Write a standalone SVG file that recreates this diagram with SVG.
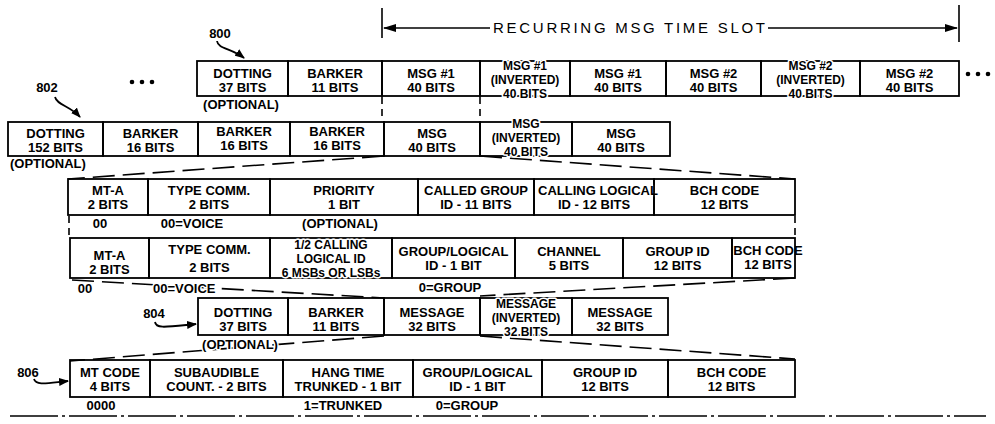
<svg xmlns="http://www.w3.org/2000/svg" width="995" height="424" viewBox="0 0 995 424">
<style>
.bg{fill:#fff}
rect.c{fill:none;stroke:#000;stroke-width:1.8}
text{font-family:"Liberation Sans",Arial,sans-serif;font-size:13px;font-weight:bold;fill:#000;text-anchor:middle}
text.l{text-anchor:start}
text.s{font-size:12px}
.h{paint-order:stroke;stroke:#fff;stroke-width:3px;stroke-linejoin:round}
.dash{fill:none;stroke:#000;stroke-width:1.6;stroke-dasharray:22 8}
.vd{fill:none;stroke:#000;stroke-width:1.6;stroke-dasharray:7 5}
.solid{fill:none;stroke:#000;stroke-width:1.6}
.lbl{fill:none;stroke:#000;stroke-width:1.8}
.dd{fill:none;stroke:#000;stroke-width:1.6;stroke-dasharray:48 4 3 4}
text.rec{font-weight:normal;font-size:15px}
</style>
<defs>
<marker id="ah" markerWidth="10" markerHeight="8" refX="9" refY="4" orient="auto" markerUnits="userSpaceOnUse">
<path d="M0,0 L10,4 L0,8 Z" fill="#000"/>
</marker>
<marker id="big" markerWidth="13" markerHeight="8" refX="12" refY="4" orient="auto" markerUnits="userSpaceOnUse">
<path d="M0,0 L13,4 L0,8 Z" fill="#000"/>
</marker>
</defs>
<rect class="bg" x="0" y="0" width="995" height="424"/>

<g id="connectors">
<line class="solid" x1="382" y1="8" x2="382" y2="38"/>
<line class="solid" x1="959" y1="5" x2="959" y2="42"/>
<line class="solid" x1="490" y1="28" x2="384" y2="28" marker-end="url(#big)"/>
<line class="solid" x1="768" y1="28" x2="957" y2="28" marker-end="url(#big)"/>
<line class="vd" x1="382" y1="97" x2="382" y2="121"/>
<line class="vd" x1="480" y1="97" x2="480" y2="121"/>
<line class="dash" x1="384" y1="156" x2="68" y2="179"/>
<line class="dash" x1="480" y1="156" x2="795" y2="179"/>
<line class="vd" x1="69" y1="216" x2="69" y2="238"/>
<line class="vd" x1="795" y1="216" x2="795" y2="238"/>
<line class="dash" x1="72" y1="280" x2="384" y2="298"/>
<line class="dash" x1="795" y1="278" x2="480" y2="296"/>
<line class="dash" x1="384" y1="336" x2="70" y2="361"/>
<line class="dash" x1="480" y1="336" x2="795" y2="359"/>
<line class="dd" x1="10" y1="416" x2="986" y2="416"/>
<path class="lbl" d="M217,41 C218,49 231,48 244,58" marker-end="url(#ah)"/>
<path class="lbl" d="M55,97 C57,105 70,106 80,117" marker-end="url(#ah)"/>
<path class="lbl" d="M155,322 C156,329 166,327 196,324" marker-end="url(#ah)"/>
<path class="lbl" d="M34,379 C36,386 48,383 68,381" marker-end="url(#ah)"/>
</g>

<g id="recurring-label"><text class="rec" x="629" y="33" textLength="272" lengthAdjust="spacing">RECURRING MSG TIME SLOT</text></g>

<g id="ref-800"><text x="220" y="38">800</text></g>
<g id="ref-802"><text x="47" y="92">802</text></g>
<g id="ref-804"><text x="154" y="318">804</text></g>
<g id="ref-806"><text x="28" y="377">806</text></g>

<g id="dots-left"><circle cx="132" cy="82" r="2.3"/><circle cx="142" cy="82" r="2.3"/><circle cx="152" cy="82" r="2.3"/></g>
<g id="dots-right"><circle cx="968" cy="74" r="2.3"/><circle cx="978" cy="74" r="2.3"/><circle cx="988" cy="74" r="2.3"/></g>

<g id="r800-dotting"><rect class="c" x="197" y="61" width="91" height="35"/><text x="242.5" y="78">DOTTING</text><text x="242.5" y="92">37 BITS</text><text class="h" x="241" y="109">(OPTIONAL)</text></g>
<g id="r800-barker"><rect class="c" x="288" y="61" width="94" height="35"/><text x="335" y="78">BARKER</text><text x="335" y="92">11 BITS</text></g>
<g id="r800-msg1a"><rect class="c" x="382" y="61" width="98" height="35"/><text x="431" y="78">MSG #1</text><text x="431" y="92">40 BITS</text></g>
<g id="r800-msg1inv"><rect class="c" x="480" y="61" width="90" height="35"/><text class="s h" x="525" y="70">MSG #1</text><text class="s" x="525" y="84">(INVERTED)</text><text class="s h" x="525" y="98">40 BITS</text></g>
<g id="r800-msg1b"><rect class="c" x="570" y="61" width="96" height="35"/><text x="618" y="78">MSG #1</text><text x="618" y="92">40 BITS</text></g>
<g id="r800-msg2a"><rect class="c" x="666" y="61" width="95" height="35"/><text x="713.5" y="78">MSG #2</text><text x="713.5" y="92">40 BITS</text></g>
<g id="r800-msg2inv"><rect class="c" x="761" y="61" width="99" height="35"/><text class="s h" x="810.5" y="70">MSG #2</text><text class="s" x="810.5" y="84">(INVERTED)</text><text class="s h" x="810.5" y="98">40 BITS</text></g>
<g id="r800-msg2b"><rect class="c" x="860" y="61" width="99" height="35"/><text x="909.5" y="78">MSG #2</text><text x="909.5" y="92">40 BITS</text></g>

<g id="r802-dotting"><rect class="c" x="8" y="122" width="95" height="34"/><text x="55.5" y="138">DOTTING</text><text x="55.5" y="152">152 BITS</text><text class="l" x="10" y="168">(OPTIONAL)</text></g>
<g id="r802-barker1"><rect class="c" x="103" y="122" width="95" height="34"/><text x="150.5" y="138">BARKER</text><text x="150.5" y="152">16 BITS</text></g>
<g id="r802-barker2"><rect class="c" x="198" y="122" width="92" height="34"/><text x="244" y="136">BARKER</text><text x="244" y="150">16 BITS</text></g>
<g id="r802-barker3"><rect class="c" x="290" y="122" width="94" height="34"/><text x="337" y="136">BARKER</text><text x="337" y="150">16 BITS</text></g>
<g id="r802-msg1"><rect class="c" x="384" y="122" width="96" height="34"/><text x="432" y="138">MSG</text><text x="432" y="152">40 BITS</text></g>
<g id="r802-msginv"><rect class="c" x="480" y="122" width="92" height="34"/><text class="s h" x="526" y="128">MSG</text><text class="s" x="526" y="142">(INVERTED)</text><text class="s h" x="526" y="156">40 BITS</text></g>
<g id="r802-msg2"><rect class="c" x="572" y="122" width="98" height="34"/><text x="621" y="138">MSG</text><text x="621" y="152">40 BITS</text></g>

<g id="ra-mta"><rect class="c" x="68" y="179" width="80" height="36"/><text x="108" y="195">MT-A</text><text x="108" y="209">2 BITS</text><text x="100" y="228">00</text></g>
<g id="ra-type"><rect class="c" x="148" y="179" width="122" height="36"/><text x="209" y="195">TYPE COMM.</text><text x="209" y="209">2 BITS</text><text x="192" y="228">00=VOICE</text></g>
<g id="ra-priority"><rect class="c" x="270" y="179" width="148" height="36"/><text x="344" y="195">PRIORITY</text><text x="344" y="209">1 BIT</text><text x="340" y="228">(OPTIONAL)</text></g>
<g id="ra-called"><rect class="c" x="418" y="179" width="116" height="36"/><text x="476" y="195">CALLED GROUP</text><text x="476" y="209">ID - 11 BITS</text></g>
<g id="ra-calling"><rect class="c" x="534" y="179" width="120" height="36"/><text class="h" x="598" y="195">CALLING LOGICAL</text><text x="594" y="209">ID - 12 BITS</text></g>
<g id="ra-bch"><rect class="c" x="654" y="179" width="141" height="36"/><text x="724.5" y="195">BCH CODE</text><text x="724.5" y="209">12 BITS</text></g>

<g id="rb-mta"><rect class="c" x="70" y="238" width="79" height="40"/><text x="109.5" y="260">MT-A</text><text x="109.5" y="274">2 BITS</text><text class="h" x="85" y="293">00</text></g>
<g id="rb-type"><rect class="c" x="149" y="238" width="121" height="40"/><text x="209.5" y="254">TYPE COMM.</text><text x="209.5" y="272">2 BITS</text><text class="h l" x="153" y="293">00=VOICE</text></g>
<g id="rb-calling"><rect class="c" x="270" y="238" width="122" height="40"/><text class="s h" x="331" y="249">1/2 CALLING</text><text class="s" x="331" y="263">LOGICAL ID</text><text class="s h" x="331" y="277">6 MSBs OR LSBs</text></g>
<g id="rb-grouplog"><rect class="c" x="392" y="238" width="123" height="40"/><text x="453.5" y="256">GROUP/LOGICAL</text><text x="453.5" y="270">ID - 1 BIT</text><text class="h" x="450" y="292">0=GROUP</text></g>
<g id="rb-channel"><rect class="c" x="515" y="238" width="108" height="40"/><text x="569" y="256">CHANNEL</text><text x="569" y="270">5 BITS</text></g>
<g id="rb-groupid"><rect class="c" x="623" y="238" width="109" height="40"/><text x="677.5" y="256">GROUP ID</text><text x="677.5" y="270">12 BITS</text></g>
<g id="rb-bch"><rect class="c" x="732" y="238" width="63" height="40"/><text x="768" y="255">BCH CODE</text><text x="768" y="269">12 BITS</text></g>

<g id="r804-dotting"><rect class="c" x="198" y="298" width="90" height="37"/><text x="243" y="317">DOTTING</text><text x="243" y="331">37 BITS</text><text class="h" x="240" y="349">(OPTIONAL)</text></g>
<g id="r804-barker"><rect class="c" x="288" y="298" width="96" height="37"/><text x="336" y="317">BARKER</text><text x="336" y="331">11 BITS</text></g>
<g id="r804-msg1"><rect class="c" x="384" y="298" width="96" height="37"/><text x="432" y="317">MESSAGE</text><text x="432" y="331">32 BITS</text></g>
<g id="r804-msginv"><rect class="c" x="480" y="298" width="92" height="37"/><text class="s h" x="526" y="308">MESSAGE</text><text class="s" x="526" y="322">(INVERTED)</text><text class="s h" x="526" y="336">32 BITS</text></g>
<g id="r804-msg2"><rect class="c" x="572" y="298" width="96" height="37"/><text x="620" y="317">MESSAGE</text><text x="620" y="331">32 BITS</text></g>

<g id="r806-mtcode"><rect class="c" x="70" y="360" width="80" height="37"/><text x="110" y="377">MT CODE</text><text x="110" y="391">4 BITS</text><text x="101" y="410">0000</text></g>
<g id="r806-subaud"><rect class="c" x="150" y="360" width="133" height="37"/><text x="216.5" y="377">SUBAUDIBLE</text><text x="216.5" y="391">COUNT. - 2 BITS</text></g>
<g id="r806-hang"><rect class="c" x="283" y="360" width="130" height="37"/><text x="348" y="377">HANG TIME</text><text x="348" y="391">TRUNKED - 1 BIT</text><text x="343" y="410">1=TRUNKED</text></g>
<g id="r806-grouplog"><rect class="c" x="413" y="360" width="129" height="37"/><text x="477.5" y="377">GROUP/LOGICAL</text><text x="477.5" y="391">ID - 1 BIT</text><text x="467" y="410">0=GROUP</text></g>
<g id="r806-groupid"><rect class="c" x="542" y="360" width="126" height="37"/><text x="605" y="377">GROUP ID</text><text x="605" y="391">12 BITS</text></g>
<g id="r806-bch"><rect class="c" x="668" y="360" width="127" height="37"/><text x="731.5" y="377">BCH CODE</text><text x="731.5" y="391">12 BITS</text></g>
</svg>
